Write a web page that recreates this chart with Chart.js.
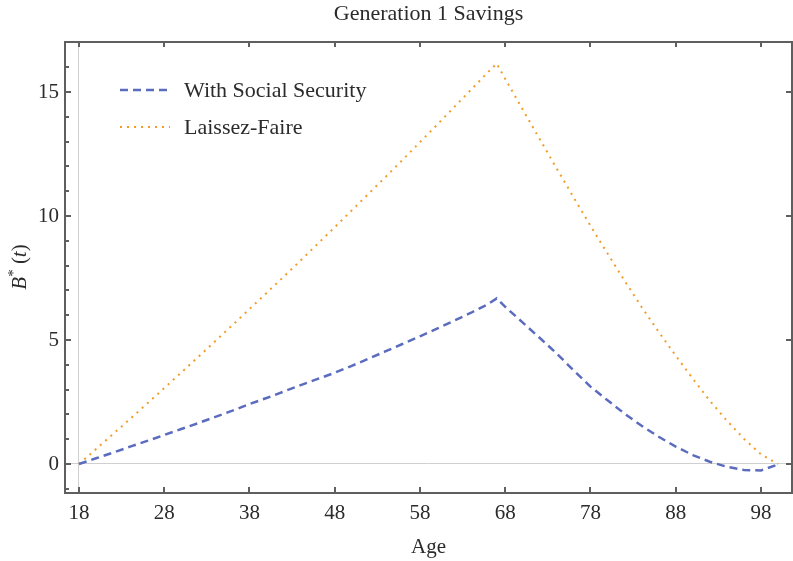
<!DOCTYPE html>
<html>
<head>
<meta charset="utf-8">
<title>Generation 1 Savings</title>
<script src="https://cdn.jsdelivr.net/npm/chart.js@4.4.1/dist/chart.umd.min.js"></script>
<style>
  html, body { margin: 0; padding: 0; background: #fff; }
  #wrap { width: 793px; height: 561px; }
</style>
</head>
<body>
<div id="wrap"><canvas id="savings-chart" width="793" height="561"></canvas></div>
<script>
// Chart data
// ------------------------------
var ageRise = [18, 20, 22, 24, 26, 28, 30, 32, 34, 36, 38, 40, 42, 44, 46, 48, 50, 52, 54, 56, 58, 60, 62, 64, 66, 67];
var ageFall = [68, 70, 72, 74, 76, 78, 80, 82, 84, 86, 88, 90, 92, 94, 96, 98, 100];

var socialSecurityRise = [0, 0.23, 0.46, 0.70, 0.93, 1.17, 1.41, 1.65, 1.90, 2.15, 2.42, 2.66, 2.92, 3.18, 3.43, 3.68,
    3.96, 4.25, 4.55, 4.85, 5.15, 5.46, 5.78, 6.10, 6.45, 6.68];
var socialSecurityFall = [6.34, 5.72, 5.10, 4.47, 3.78, 3.12, 2.57, 2.03, 1.54, 1.10, 0.70, 0.36, 0.09, -0.11, -0.24, -0.26, -0.02];

var laissezFaireRise = [0, 0.60, 1.21, 1.82, 2.44, 3.06, 3.69, 4.32, 4.96, 5.60, 6.25, 6.90, 7.55, 8.21, 8.88, 9.55,
    10.23, 10.91, 11.59, 12.28, 12.98, 13.68, 14.39, 15.10, 15.81, 16.15];
var laissezFaireFall = [15.53, 14.33, 13.13, 11.94, 10.77, 9.61, 8.49, 7.39, 6.33, 5.33, 4.37, 3.44, 2.55, 1.75, 1.02, 0.39, 0];

var seriesLabels = ["With Social Security", "Laissez-Faire"];
var xTicks = [18, 28, 38, 48, 58, 68, 78, 88, 98];
var yTicks = [0, 5, 10, 15];

var ages = ageRise.concat(ageFall);

function toPoints(values) {
    return ages.map(function(a, i) { return { x: a, y: values[i] }; });
}

var serif = "'Liberation Serif', 'DejaVu Serif', serif";
var frameColor = "#5f5f5f";
var textColor = "#2b2b2b";

// Frame with inward ticks, legend and y label
// ------------------------------
var framePlugin = {
    id: 'frame',
    afterDraw: function(chart) {
        var ctx = chart.ctx;
        var a = chart.chartArea;
        var x = chart.scales.x;
        var y = chart.scales.y;

        ctx.save();
        ctx.strokeStyle = frameColor;
        ctx.lineWidth = 2;
        ctx.strokeRect(a.left, a.top, a.right - a.left, a.bottom - a.top);

        ctx.beginPath();
        xTicks.forEach(function(v) {
            var px = Math.round(x.getPixelForValue(v));
            ctx.moveTo(px, a.bottom);
            ctx.lineTo(px, a.bottom - 6);
            ctx.moveTo(px, a.top);
            ctx.lineTo(px, a.top + 5);
        });
        for (var v = Math.ceil(y.min); v <= Math.floor(y.max); v++) {
            var py = Math.round(y.getPixelForValue(v));
            var major = yTicks.indexOf(v) !== -1;
            ctx.moveTo(a.left, py);
            ctx.lineTo(a.left + (major ? 6 : 4), py);
            if (major) {
                ctx.moveTo(a.right, py);
                ctx.lineTo(a.right - 6, py);
            }
        }
        ctx.stroke();

        // legend
        ctx.font = "22px " + serif;
        ctx.textBaseline = "middle";
        ctx.textAlign = "left";
        chart.data.datasets.forEach(function(ds, i) {
            var ly = 90 + i * 37;
            ctx.save();
            ctx.strokeStyle = ds.borderColor;
            ctx.lineWidth = ds.borderWidth;
            ctx.setLineDash(ds.borderDash);
            ctx.beginPath();
            ctx.moveTo(120, ly);
            ctx.lineTo(170, ly);
            ctx.stroke();
            ctx.restore();
            ctx.fillStyle = textColor;
            ctx.fillText(ds.label, 184, ly + 1);
        });

        // y axis title B*(t)
        ctx.translate(19, 267);
        ctx.rotate(-Math.PI / 2);
        ctx.fillStyle = textColor;
        ctx.textBaseline = "alphabetic";
        var parts = [
            { t: "B", f: "italic 21px " + serif, dy: 0 },
            { t: "*", f: "15px " + serif, dy: -8 },
            { t: " (", f: "21px " + serif, dy: 0 },
            { t: "t", f: "italic 21px " + serif, dy: 0 },
            { t: ")", f: "21px " + serif, dy: 0 }
        ];
        var total = 0;
        parts.forEach(function(p) { ctx.font = p.f; p.w = ctx.measureText(p.t).width; total += p.w; });
        var cx = -total / 2;
        parts.forEach(function(p) {
            ctx.font = p.f;
            ctx.fillText(p.t, cx, 7 + p.dy);
            cx += p.w;
        });
        ctx.restore();
    }
};

window.addEventListener("load", function() {

    var ctx = document.getElementById("savings-chart");

    var chartData = {
        datasets: [{
            label: seriesLabels[0],
            data: toPoints(socialSecurityRise.concat(socialSecurityFall)),
            borderColor: "#5b6cbf",
            borderWidth: 2.5,
            borderDash: [8, 5],
            pointRadius: 0,
            fill: false,
            tension: 0
        }, {
            label: seriesLabels[1],
            data: toPoints(laissezFaireRise.concat(laissezFaireFall)),
            borderColor: "#f29b26",
            borderWidth: 2,
            borderDash: [2, 5],
            pointRadius: 0,
            fill: false,
            tension: 0
        }]
    };

    var chartOptions = {
        responsive: false,
        animation: false,
        layout: { padding: { left: 0, right: 1, top: 0, bottom: 0 } },
        plugins: {
            legend: { display: false },
            tooltip: { enabled: false },
            title: {
                display: true,
                fullSize: false,
                text: "Generation 1 Savings",
                color: textColor,
                font: { family: serif, size: 22, weight: "normal" },
                padding: { top: 1, bottom: 14.6 }
            }
        },
        scales: {
            x: {
                type: "linear",
                min: 16.36,
                max: 101.64,
                afterFit: function(scale) { scale.height = 68; },
                afterBuildTicks: function(scale) {
                    scale.ticks = xTicks.map(function(v) { return { value: v }; });
                },
                border: { display: false },
                grid: {
                    drawTicks: false,
                    color: function(c) { return c.tick && c.tick.value === 18 ? "#d0d0d0" : "rgba(0,0,0,0)"; }
                },
                ticks: {
                    color: textColor,
                    padding: 8,
                    maxRotation: 0,
                    font: { family: serif, size: 21 }
                },
                title: {
                    display: true,
                    text: "Age",
                    color: textColor,
                    font: { family: serif, size: 21 },
                    padding: { top: 0, bottom: 1 }
                }
            },
            y: {
                type: "linear",
                min: -1.17,
                max: 17.02,
                afterFit: function(scale) { scale.width = 65; },
                afterBuildTicks: function(scale) {
                    scale.ticks = yTicks.map(function(v) { return { value: v }; });
                },
                border: { display: false },
                grid: {
                    drawTicks: false,
                    color: function(c) { return c.tick && c.tick.value === 0 ? "#d0d0d0" : "rgba(0,0,0,0)"; }
                },
                ticks: {
                    color: textColor,
                    padding: 6,
                    font: { family: serif, size: 21 }
                }
            }
        }
    };

    var config = {
        type: "line",
        options: chartOptions,
        data: chartData,
        plugins: [framePlugin]
    };

    var savingsChart = new Chart(ctx, config);
});
</script>
</body>
</html>
